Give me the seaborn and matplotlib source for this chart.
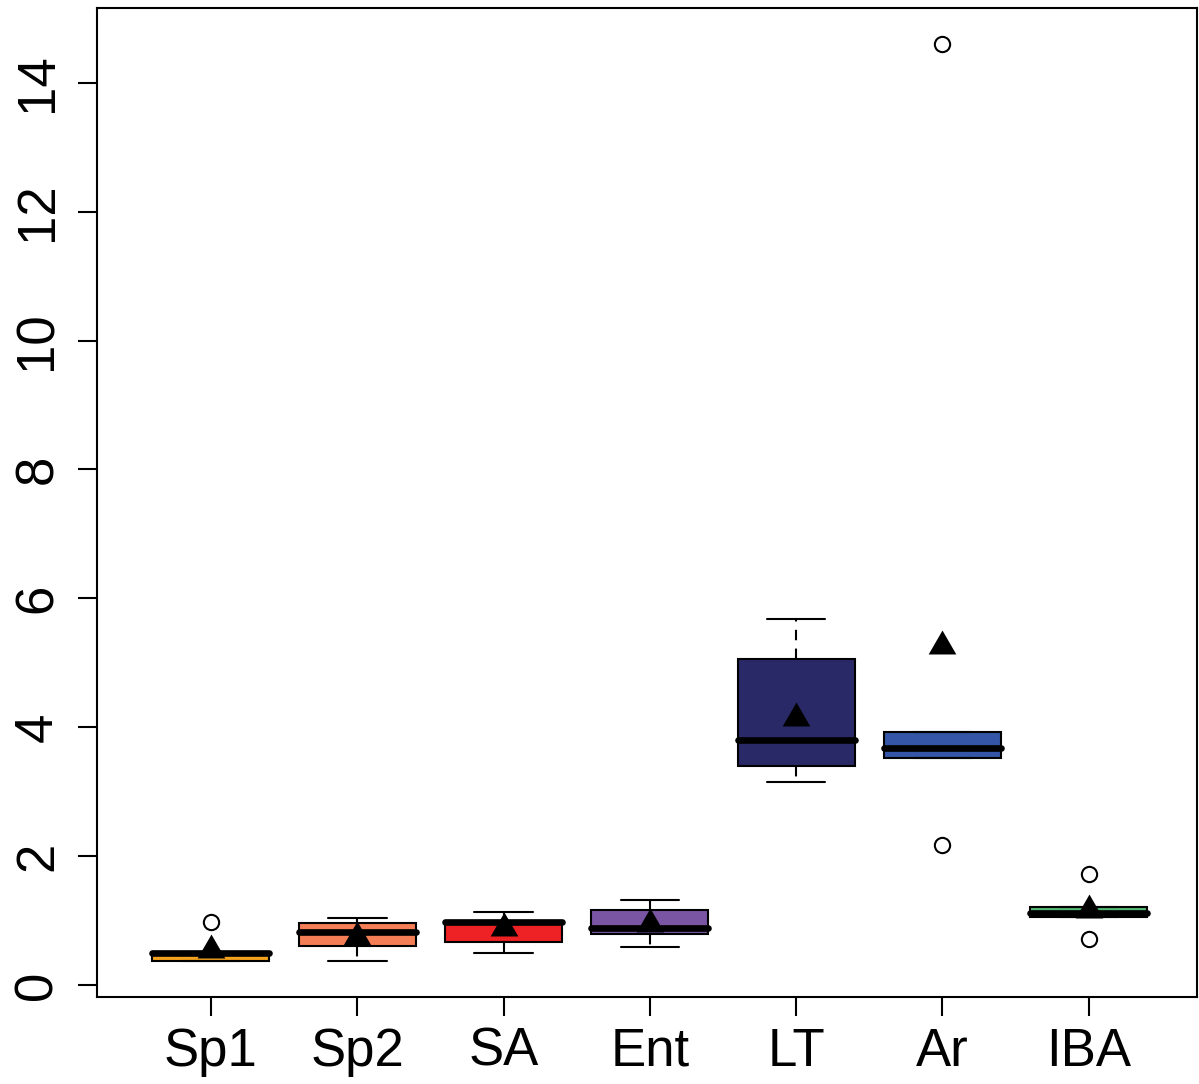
import numpy as np
import pandas as pd
import matplotlib
matplotlib.use("Agg")
import matplotlib.pyplot as plt
from matplotlib.path import Path
import seaborn as sns

# Groups and colours
groups = ["Sp1", "Sp2", "SA", "Ent", "LT", "Ar", "IBA"]
colors = ["#F5A21E", "#F47E55", "#EE2124", "#7A55A3", "#2A2967", "#3556A6", "#52BA75"]

sp1 = [0.37, 0.375, 0.38, 0.44, 0.49, 0.50, 0.51, 0.51, 0.97]
sp2 = [0.37, 0.60, 0.82, 0.96, 1.035]
sa = [0.50, 0.67, 0.98, 0.99, 1.14]
ent = [0.59, 0.79, 0.88, 1.17, 1.32]
lt = [3.15, 3.40, 3.80, 5.06, 5.68]
ar = [2.17, 3.52, 3.52, 3.60, 3.68, 3.80, 3.93, 3.93, 14.60]
iba = [0.71, 1.05, 1.05, 1.08, 1.11, 1.15, 1.21, 1.21, 1.72]

# Group means (triangles)
means = [0.55, 0.75, 0.88, 0.94, 4.15, 5.26, 1.16]

values = [sp1, sp2, sa, ent, lt, ar, iba]
df = pd.DataFrame({
    "group": np.repeat(groups, [len(v) for v in values]),
    "value": np.concatenate(values),
})
df_mean = pd.DataFrame({"group": groups, "mean": means})

sns.set_style("white")
plt.rcParams["font.family"] = ["Liberation Sans", "DejaVu Sans"]

fig = plt.figure(figsize=(11.99, 10.84), dpi=100)
ax = fig.add_axes([97 / 1199, 1 - 997 / 1084, 1100 / 1199, 989 / 1084])

sns.boxplot(
    data=df, x="group", y="value", hue="group", order=groups, hue_order=groups,
    palette=colors, saturation=1, width=0.8, linecolor="black", linewidth=1.5,
    legend=False, ax=ax,
    medianprops=dict(linewidth=4.8, solid_capstyle="round"),
    whiskerprops=dict(linestyle=(0, (5, 4)), linewidth=1.5),
    capprops=dict(linewidth=1.5),
    flierprops=dict(marker="o", markerfacecolor="white", markeredgecolor="black",
                    markersize=11, markeredgewidth=1.5),
)

# R-style filled triangle centred on its centroid
tri = Path([(0, 1), (-0.866, -0.5), (0.866, -0.5), (0, 1)],
           [Path.MOVETO, Path.LINETO, Path.LINETO, Path.CLOSEPOLY])
sns.stripplot(data=df_mean, x="group", y="mean", order=groups, jitter=False,
              marker=tri, size=23, color="black", edgecolor="black",
              linewidth=0, ax=ax, zorder=5)

ax.set_xlim(-0.779, 6.74)
ax.set_ylim(-0.186, 15.16)
ax.set_yticks(range(0, 15, 2))
ax.set_xlabel("")
ax.set_ylabel("")

for s in ax.spines.values():
    s.set_visible(True)
    s.set_linewidth(1.5)
    s.set_color("black")

ax.tick_params(axis="both", direction="out", length=13.5, width=1.5,
               color="black", labelcolor="black", labelsize=38,
               bottom=True, left=True)
ax.tick_params(axis="x", pad=8)
ax.tick_params(axis="y", pad=11, labelrotation=90)
for lab in ax.get_yticklabels():
    lab.set_va("center")

fig.savefig("out.png", dpi=100)
